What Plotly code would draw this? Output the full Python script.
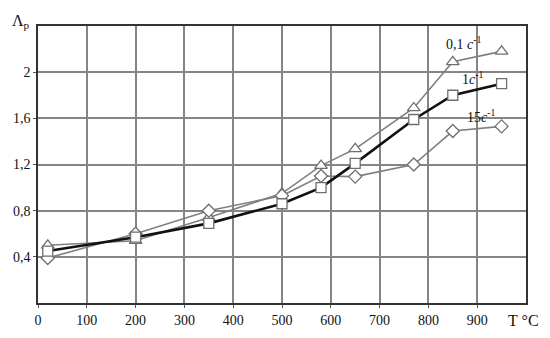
import plotly.graph_objects as go

temps = [20, 200, 350, 500, 580, 650, 770, 850, 950]
lam_01 = [0.50, 0.54, 0.74, 0.95, 1.19, 1.335, 1.69, 2.09, 2.18]
lam_1 = [0.45, 0.57, 0.69, 0.86, 1.00, 1.21, 1.59, 1.80, 1.90]
lam_15 = [0.39, 0.60, 0.80, 0.93, 1.10, 1.095, 1.20, 1.49, 1.53]

x_ticks = [0, 100, 200, 300, 400, 500, 600, 700, 800, 900]
y_ticks = [0.4, 0.8, 1.2, 1.6, 2.0]
y_tick_text = ["0,4", "0,8", "1,2", "1,6", "2"]

series_labels = ["0,1 <i>c</i><sup>-1</sup>", "1<i>c</i><sup>-1</sup>", "15<i>c</i><sup>-1</sup>"]

FONT = "Liberation Serif, Times New Roman, serif"

fig = go.Figure()
fig.add_trace(go.Scatter(
    x=temps, y=lam_01, mode="lines+markers",
    line=dict(color="#7f7f7f", width=1.6),
    marker=dict(symbol="triangle-up", size=11, color="white",
                line=dict(color="#6f6f6f", width=1.3)),
    showlegend=False))
fig.add_trace(go.Scatter(
    x=temps, y=lam_15, mode="lines+markers",
    line=dict(color="#7f7f7f", width=1.6),
    marker=dict(symbol="diamond", size=10, color="white",
                line=dict(color="#6f6f6f", width=1.3)),
    showlegend=False))
fig.add_trace(go.Scatter(
    x=temps, y=lam_1, mode="lines+markers",
    line=dict(color="#111111", width=2.6),
    marker=dict(symbol="square", size=10, color="white",
                line=dict(color="#6f6f6f", width=1.3)),
    showlegend=False))

# series labels near the right end
label_pos = [(872, 2.25), (890, 1.95), (908, 1.62)]
for (lx, ly), txt in zip(label_pos, series_labels):
    fig.add_annotation(x=lx, y=ly, text=txt, showarrow=False,
                       xanchor="center", yanchor="middle",
                       font=dict(family=FONT, size=14, color="#111"))

fig.add_annotation(xref="paper", yref="paper", x=-0.034, y=1.058,
                   text="Λ<sub>p</sub>", showarrow=False, xanchor="center",
                   yanchor="top", font=dict(family=FONT, size=16, color="#111"))
fig.add_annotation(xref="paper", yref="paper", x=0.994, y=-0.063,
                   text="T °C", showarrow=False, xanchor="center",
                   yanchor="middle", font=dict(family=FONT, size=16, color="#111"))

fig.update_xaxes(range=[0, 1000], tickvals=x_ticks, showgrid=True,
                 gridcolor="#858585", gridwidth=1.5, automargin=False,
                 showline=True, linecolor="#333", linewidth=1.5, mirror=True,
                 ticks="outside", ticklen=3, tickcolor="#555",
                 tickfont=dict(family=FONT, size=14, color="#111"),
                 zeroline=False)
fig.update_yaxes(range=[0, 2.4], tickvals=y_ticks, ticktext=y_tick_text,
                 showgrid=True, gridcolor="#858585", gridwidth=1.5, automargin=False,
                 showline=True, linecolor="#333", linewidth=1.5, mirror=True,
                 ticks="outside", ticklen=3, tickcolor="#555",
                 tickfont=dict(family=FONT, size=14, color="#111"),
                 zeroline=False)

# the page body adds an 8px offset, so margins compensate for it
fig.update_layout(width=550, height=338,
                  margin=dict(l=30, r=32, t=18, b=43),
                  plot_bgcolor="white", paper_bgcolor="white")

fig.write_html("out.html")
